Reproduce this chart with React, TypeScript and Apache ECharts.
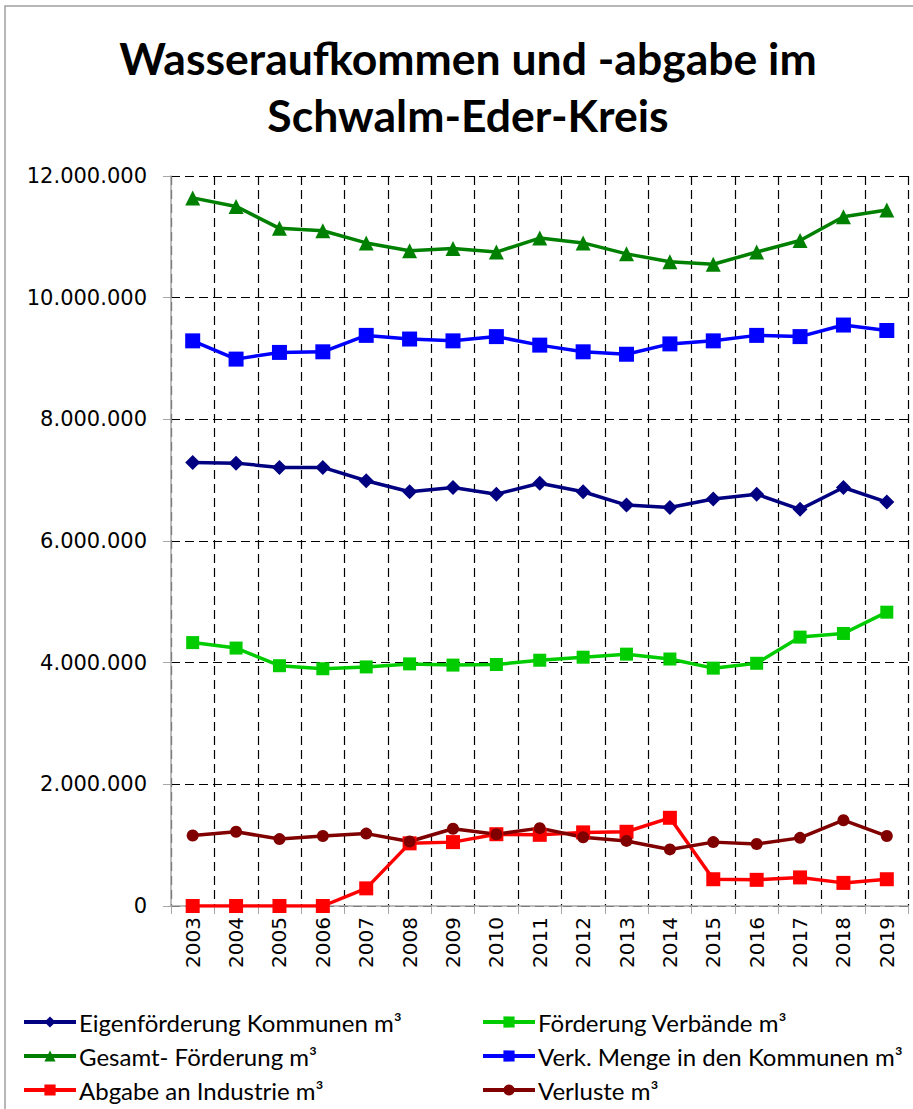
import React, { useEffect, useRef } from "react";
import * as echarts from "echarts";

const years = ["2003","2004","2005","2006","2007","2008","2009","2010","2011","2012","2013","2014","2015","2016","2017","2018","2019"];
const eigenfoerderung = [7290000,7280000,7210000,7210000,6990000,6810000,6880000,6770000,6950000,6810000,6590000,6550000,6690000,6770000,6520000,6880000,6640000];
const foerderungVerbaende = [4330000,4240000,3950000,3900000,3930000,3980000,3960000,3970000,4040000,4090000,4140000,4060000,3910000,3990000,4420000,4480000,4830000];
const gesamtFoerderung = [11640000,11500000,11140000,11100000,10900000,10770000,10810000,10750000,10980000,10900000,10720000,10590000,10550000,10750000,10940000,11330000,11440000];
const verkMenge = [9290000,8990000,9100000,9110000,9380000,9320000,9290000,9360000,9220000,9110000,9070000,9240000,9290000,9380000,9360000,9550000,9460000];
const abgabeIndustrie = [0,0,0,0,290000,1030000,1050000,1180000,1170000,1210000,1220000,1450000,440000,430000,470000,380000,440000];
const verluste = [1160000,1220000,1100000,1150000,1190000,1060000,1270000,1180000,1280000,1130000,1070000,930000,1050000,1020000,1120000,1410000,1150000];
const yTicks = { min: 0, max: 12000000, interval: 2000000 };

const names = [
  "Eigenförderung Kommunen m³",
  "Förderung Verbände m³",
  "Gesamt- Förderung m³",
  "Verk. Menge in den Kommunen m³",
  "Abgabe an Industrie m³",
  "Verluste m³",
];

const fmt = (v: number) => String(v).replace(/\B(?=(\d{3})+(?!\d))/g, ".");

export default function App() {
  const ref = useRef<HTMLDivElement>(null);
  useEffect(() => {
    if (!ref.current) return;
    const chart = echarts.init(ref.current, undefined, { renderer: "svg" });
    const mk = (name: string, data: number[], color: string, symbol: string, size: number) => ({
      name,
      type: "line",
      data,
      symbol,
      symbolSize: size,
      showAllSymbol: true,
      lineStyle: { color, width: 3.5 },
      itemStyle: { color },
      emphasis: { disabled: true },
    });
    const legendCommon = {
      orient: "vertical",
      itemWidth: 52,
      itemHeight: 14,
      itemGap: 10,
      top: 1005,
      lineStyle: { width: 4 },
      textStyle: { fontFamily: "Lato", fontSize: 24, color: "#000", padding: [0, 0, 0, -2] },
      selectedMode: false,
    };
    chart.setOption({
      animation: false,
      backgroundColor: "#fff",
      title: {
        text: "Wasseraufkommen und -abgabe im\nSchwalm-Eder-Kreis",
        left: 463,
        textAlign: "center",
        top: 24,
        textStyle: { fontFamily: "Lato", fontWeight: "bold", fontSize: 44.5, lineHeight: 57, color: "#000" },
      },
      graphic: [
        {
          type: "rect",
          shape: { x: 5, y: 6, width: 930, height: 1130 },
          style: { fill: "none", stroke: "#a0a0a0", lineWidth: 1.5 },
          silent: true,
        },
      ],
      legend: [
        { ...legendCommon, left: 17, data: [names[0], names[2], names[4]] },
        { ...legendCommon, left: 476, data: [names[1], names[3], names[5]] },
      ],
      grid: { left: 171, right: 4.5, top: 176, bottom: 203, containLabel: false },
      xAxis: {
        type: "category",
        data: years,
        boundaryGap: true,
        axisLine: { lineStyle: { color: "#a6a6a6", width: 1.5 } },
        axisTick: { show: true, interval: 0, length: 8, lineStyle: { color: "#a6a6a6" } },
        axisLabel: { rotate: 90, interval: 0, margin: 11, fontFamily: "DejaVu Sans", fontSize: 20, color: "#000" },
        splitLine: { show: true, interval: 0, lineStyle: { color: "#000", type: [9, 5], width: 1.2 } },
      },
      yAxis: {
        type: "value",
        min: yTicks.min,
        max: yTicks.max,
        interval: yTicks.interval,
        axisLine: { show: true, lineStyle: { color: "#a6a6a6", width: 1.5 } },
        axisTick: { show: true, length: 8, lineStyle: { color: "#a6a6a6" } },
        axisLabel: { formatter: fmt, margin: 24, fontFamily: "DejaVu Sans", fontSize: 21, color: "#000" },
        splitLine: { show: true, lineStyle: { color: "#000", type: [9, 5], width: 1.2 } },
      },
      series: [
        mk(names[0], eigenfoerderung, "#000080", "diamond", 15),
        mk(names[1], foerderungVerbaende, "#00cc00", "rect", 13),
        mk(names[2], gesamtFoerderung, "#008000", "triangle", 15),
        mk(names[3], verkMenge, "#0000ff", "rect", 15),
        mk(names[4], abgabeIndustrie, "#ff0000", "rect", 14),
        mk(names[5], verluste, "#800000", "circle", 12),
      ],
    });
    return () => chart.dispose();
  }, []);
  return <div ref={ref} style={{ width: 913, height: 1109, position: "absolute", left: 0, top: 0 }} />;
}
